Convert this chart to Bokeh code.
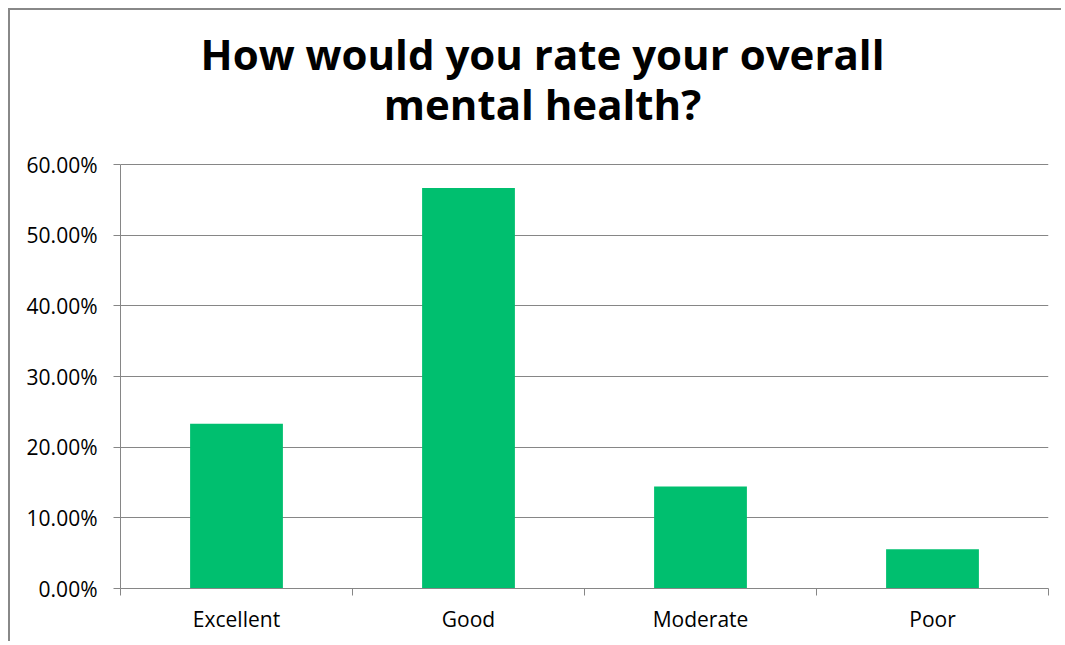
from bokeh.plotting import figure
from bokeh.models import Range1d, FixedTicker, NumeralTickFormatter, Label, ColumnDataSource
from bokeh.embed import file_html
from bokeh.resources import INLINE

categories = ["Excellent", "Good", "Moderate", "Poor"]
shares = [0.2333, 0.5667, 0.1444, 0.0556]
y_ticks = [0.0, 0.1, 0.2, 0.3, 0.4, 0.5, 0.6]
title_lines = ["How would you rate your overall", "mental health?"]

GREEN = "#00BF6F"
GRAY = "#868686"
FONT = "Open Sans"

Y_AXIS_MAX = 0.6
# frame is extended upward (578px tall, axis top at 424px) to give room for the title text
Y_VIEW_MAX = Y_AXIS_MAX * 578 / 424

positions = [i + 0.5 for i in range(len(categories))]
source = ColumnDataSource(dict(x=positions, top=shares, cat=categories))

p = figure(width=1053, height=633, output_backend="svg", toolbar_location=None,
           x_range=Range1d(0, len(categories)), y_range=Range1d(0, Y_VIEW_MAX),
           min_border_left=110, min_border_right=15, min_border_bottom=55, min_border_top=0,
           styles={"margin-left": "8px", "margin-top": "8px",
                   "border-left": "2px solid #888888", "border-top": "2px solid #888888"})
p.outline_line_color = None
p.background_fill_color = "white"
p.border_fill_color = "white"

p.vbar(x="x", top="top", width=0.4, bottom=0, source=source, fill_color=GREEN, line_color=None)

# two-line chart title (screen units measured from the frame's bottom-left)
for line, y_px in zip(title_lines, [535, 485]):
    p.add_layout(Label(x=422, y=y_px, x_units="screen", y_units="screen", text=line,
                       text_align="center", text_baseline="alphabetic",
                       text_font=FONT, text_font_style="bold", text_font_size="42px",
                       text_color="black"))

# y axis
p.yaxis.ticker = FixedTicker(ticks=y_ticks, minor_ticks=[])
p.yaxis.bounds = (0, Y_AXIS_MAX)
p.yaxis.formatter = NumeralTickFormatter(format="0.00%")
p.yaxis.axis_line_color = GRAY
p.yaxis.major_tick_line_color = GRAY
p.yaxis.major_tick_out = 7
p.yaxis.major_tick_in = 0
p.yaxis.minor_tick_line_color = None
p.yaxis.major_label_text_font = FONT
p.yaxis.major_label_text_font_size = "21px"
p.yaxis.major_label_text_color = "black"
p.yaxis.major_label_standoff = 16

# x axis
p.xaxis.ticker = FixedTicker(ticks=positions, minor_ticks=list(range(len(categories) + 1)))
p.xaxis.major_label_overrides = {pos: c for pos, c in zip(positions, categories)}
p.xaxis.axis_line_color = GRAY
p.xaxis.major_tick_line_color = None
p.xaxis.major_tick_out = 0
p.xaxis.major_tick_in = 0
p.xaxis.minor_tick_line_color = GRAY
p.xaxis.minor_tick_out = 7
p.xaxis.minor_tick_in = 0
p.xaxis.major_label_text_font = FONT
p.xaxis.major_label_text_font_size = "21px"
p.xaxis.major_label_text_color = "black"
p.xaxis.major_label_standoff = 9

p.xgrid.grid_line_color = None
p.ygrid.ticker = FixedTicker(ticks=y_ticks)
p.ygrid.grid_line_color = GRAY
p.ygrid.grid_line_width = 1

open("out.html", "w").write(file_html(p, INLINE))
